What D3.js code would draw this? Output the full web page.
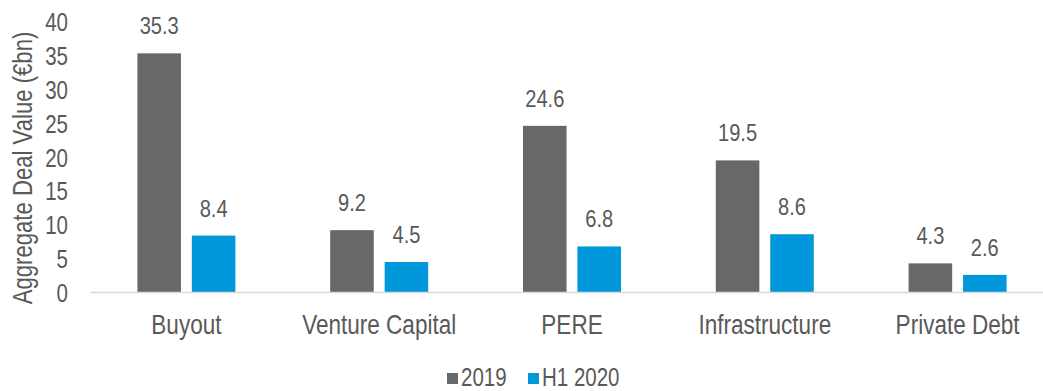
<!DOCTYPE html>
<html>
<head>
<meta charset="utf-8">
<script src="https://cdn.jsdelivr.net/npm/d3@7"></script>
<style>
  html, body { margin: 0; padding: 0; background: #ffffff; }
  svg { display: block; }
  text { font-family: "Liberation Sans", Arial, sans-serif; fill: #595959; }
</style>
</head>
<body>
<svg id="chart" width="1043" height="391"></svg>
<script>
// Aggregate deal value by strategy, 2019 vs H1 2020 (€bn)
const categories = ["Buyout", "Venture Capital", "PERE", "Infrastructure", "Private Debt"];
const seriesNames = ["2019", "H1 2020"];
const values2019 = [35.3, 9.2, 24.6, 19.5, 4.3];
const valuesH12020 = [8.4, 4.5, 6.8, 8.6, 2.6];
const yTicks = [0, 5, 10, 15, 20, 25, 30, 35, 40];
const colors = ["#686868", "#0098da"];

const seriesValues = [values2019, valuesH12020];
const rows = categories.map((c, i) => ({
  category: c,
  items: seriesNames.map((s, j) => ({ series: s, value: seriesValues[j][i] }))
}));

// condensed type: regular sans squeezed horizontally
const NARROW = 0.82;

const svg = d3.select("#chart");

const y = d3.scaleLinear().domain([0, 40]).range([292.5, 21.5]);
const x0 = d3.scaleBand().domain(categories).range([90, 1054]).paddingInner(0).paddingOuter(0);
const groupWidth = 98;
const x1 = d3.scaleBand().domain(seriesNames).range([0, groupWidth]).paddingInner(0.2);
const color = d3.scaleOrdinal().domain(seriesNames).range(colors);

// Y axis labels (no axis line, no ticks)
const yAxis = d3.axisLeft(y).tickValues(yTicks).tickSize(0).tickPadding(0);
const yg = svg.append("g").attr("transform", "translate(68,0)").call(yAxis);
yg.select(".domain").remove();
yg.selectAll("text")
  .attr("x", 0)
  .attr("dy", "0.36em")
  .attr("transform", `scale(${NARROW},1)`)
  .attr("font-size", "25px")
  .attr("font-family", "Liberation Sans, Arial, sans-serif")
  .attr("fill", "#595959");

// Y axis title
svg.append("text")
  .attr("transform", `translate(32,168) rotate(-90) scale(${NARROW},1)`)
  .attr("text-anchor", "middle")
  .attr("font-size", "27px")
  .text("Aggregate Deal Value (€bn)");

// Bars
const groups = svg.append("g").selectAll("g")
  .data(rows)
  .join("g")
  .attr("transform", d => `translate(${x0(d.category) + x0.bandwidth() / 2 - groupWidth / 2},0)`);

groups.selectAll("rect")
  .data(d => d.items)
  .join("rect")
  .attr("x", d => x1(d.series))
  .attr("y", d => y(d.value))
  .attr("width", x1.bandwidth())
  .attr("height", d => y(0) - y(d.value))
  .attr("fill", d => color(d.series));

// Value labels
groups.selectAll("text.val")
  .data(d => d.items)
  .join("text")
  .attr("class", "val")
  .attr("transform", d => `translate(${x1(d.series) + x1.bandwidth() / 2},${y(d.value) - 19}) scale(${NARROW},1)`)
  .attr("text-anchor", "middle")
  .attr("font-size", "24.5px")
  .text(d => d.value.toFixed(1));

// X axis baseline
svg.append("line")
  .attr("x1", 90).attr("x2", 1043)
  .attr("y1", y(0)).attr("y2", y(0))
  .attr("stroke", "#d9d9d9")
  .attr("stroke-width", 1.5);

// Category labels
const xAxis = d3.axisBottom(x0).tickSize(0).tickPadding(0);
const xg = svg.append("g").attr("transform", "translate(0,334)").call(xAxis);
xg.select(".domain").remove();
xg.selectAll("text")
  .attr("y", 0)
  .attr("dy", 0)
  .attr("transform", `scale(${NARROW},1)`)
  .attr("font-size", "27.5px")
  .attr("font-family", "Liberation Sans, Arial, sans-serif")
  .attr("fill", "#595959");

// Legend
const legendItems = [
  { name: seriesNames[0], sx: 447, tx: 461 },
  { name: seriesNames[1], sx: 528, tx: 542 }
];
const legend = svg.append("g");
legend.selectAll("rect")
  .data(legendItems)
  .join("rect")
  .attr("x", d => d.sx)
  .attr("y", 373)
  .attr("width", 11)
  .attr("height", 11)
  .attr("fill", d => color(d.name));
legend.selectAll("text")
  .data(legendItems)
  .join("text")
  .attr("transform", d => `translate(${d.tx},386) scale(${NARROW},1)`)
  .attr("font-size", "25px")
  .text(d => d.name);
</script>
</body>
</html>
